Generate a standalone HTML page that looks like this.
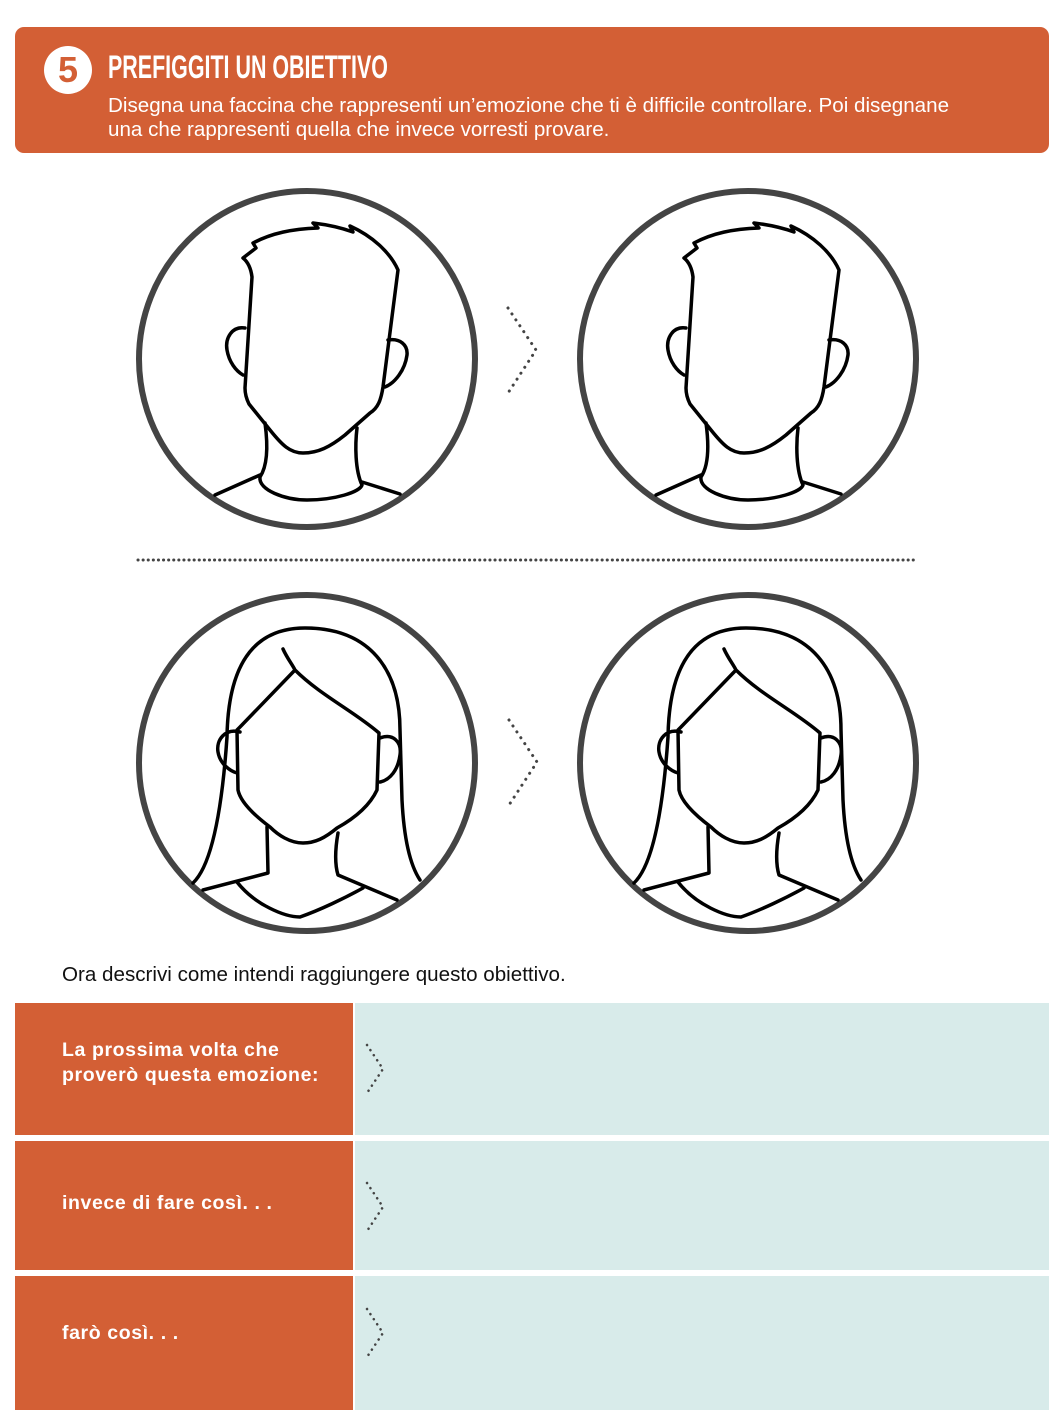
<!DOCTYPE html>
<html><head><meta charset="utf-8"><style>
body{margin:0;width:1064px;height:1410px;background:#fff;position:relative;overflow:hidden;font-family:"Liberation Sans",sans-serif}
.abs{position:absolute}
</style></head><body>
<div class="abs" style="left:15px;top:27px;width:1034px;height:126px;background:#d35f35;border-radius:9px"></div>
<div class="abs" style="left:44px;top:46px;width:48px;height:48px;border-radius:50%;background:#fff;color:#d35f35;font-weight:bold;font-size:36px;line-height:48px;text-align:center">5</div>
<div class="abs" style="left:108px;top:50px;color:#fff;font-family:'Liberation Sans Narrow','Liberation Sans',sans-serif;font-weight:bold;font-size:32px;line-height:34px;transform:scaleX(0.67);transform-origin:left top;white-space:nowrap">PREFIGGITI UN OBIETTIVO</div>
<div class="abs" style="left:108px;top:94px;color:#fff;font-size:20.6px;line-height:24px;white-space:nowrap">Disegna una faccina che rappresenti un’emozione che ti è difficile controllare. Poi disegnane<br>una che rappresenti quella che invece vorresti provare.</div>

<svg class="abs" style="left:0;top:0" width="1064" height="960">
<defs>
<g id="male" fill="none" stroke="#000" stroke-width="3.5" stroke-linejoin="round" stroke-linecap="round">
<path d="M243,258 L256,248 L253,243 C272,233 292,229 318,228 L313,223 C330,225 342,228 353,232 L350,226 C372,236 390,252 398,270 L383,387 C381,400 378,408 370,413 L345,435 C330,447 318,453 303,453 C290,453 282,445 270,430 L249,404 C246,398 245,393 245,388 L252,277 C251,269 248,262 243,258 Z"/>
<path d="M245,328 C232,326 225,338 227,350 C229,362 236,371 243,375"/>
<path d="M388,340 C400,338 408,345 407,355 C405,370 395,383 385,387"/>
<path d="M265,423 C268,445 268,465 260,477 C258,490 285,500 307,500 C335,500 360,492 362,485 C355,470 355,445 357,428"/>
<path d="M215,495 L260,475 M362,482 L400,494"/>
</g>
<g id="female" fill="none" stroke="#000" stroke-width="3.5" stroke-linejoin="round" stroke-linecap="round">
<path d="M193,883 C212,865 222,810 227,737 C228,670 250,628 305,628 C370,628 400,670 400,730 L402,800 C404,840 410,865 420,880"/>
<path d="M283,649 C287,658 292,664 295,670 C320,695 355,712 379,733 L377,790 C370,805 355,818 337,828 C325,838 315,843 303,843 C290,843 278,835 270,827 C250,812 240,800 238,790 L237,730 L240,727 L295,670"/>
<path d="M240,732 C225,728 216,740 218,752 C220,764 230,771 237,773"/>
<path d="M380,738 C393,733 402,742 400,755 C398,770 390,780 380,782"/>
<path d="M267,827 L268,873 L203,890 M338,833 C335,850 335,865 338,875 L397,900"/>
<path d="M237,882 C255,905 285,917 300,917 C320,910 345,898 363,888"/>
</g>
<g id="arrow" fill="none" stroke="#444" stroke-width="3" stroke-dasharray="0.1 7" stroke-linecap="round">
<path d="M508,308 L536,350 L508,393"/>
</g>
</defs>
<g><circle cx="307" cy="359" r="168" fill="none" stroke="#444" stroke-width="6"/><use href="#male"/></g>
<g transform="translate(441,0)"><circle cx="307" cy="359" r="168" fill="none" stroke="#444" stroke-width="6"/><use href="#male"/></g>
<use href="#arrow"/>
<line x1="138" y1="560" x2="918" y2="560" stroke="#444" stroke-width="3" stroke-dasharray="0.1 5" stroke-linecap="round"/>
<g><circle cx="307" cy="763" r="168" fill="none" stroke="#444" stroke-width="6"/><use href="#female"/></g>
<g transform="translate(441,0)"><circle cx="307" cy="763" r="168" fill="none" stroke="#444" stroke-width="6"/><use href="#female"/></g>
<use href="#arrow" transform="translate(1,412)"/>
</svg>

<div class="abs" style="left:62px;top:963px;font-size:20.6px;color:#111">Ora descrivi come intendi raggiungere questo obiettivo.</div>

<div class="abs" style="left:15px;top:1003px;width:338px;height:132px;background:#d35f35"></div>
<div class="abs" style="left:62px;top:1038px;color:#fff;font-weight:bold;font-size:19.5px;line-height:25px;letter-spacing:0.6px">La prossima volta che<br>proverò questa emozione:</div>
<div class="abs" style="left:355px;top:1003px;width:694px;height:132px;background:#d8ebea"></div>
<div class="abs" style="left:15px;top:1141px;width:338px;height:129px;background:#d35f35"></div>
<div class="abs" style="left:62px;top:1192px;color:#fff;font-weight:bold;font-size:19.5px;letter-spacing:0.6px">invece di fare così. . .</div>
<div class="abs" style="left:355px;top:1141px;width:694px;height:129px;background:#d8ebea"></div>
<div class="abs" style="left:15px;top:1276px;width:338px;height:134px;background:#d35f35"></div>
<div class="abs" style="left:62px;top:1322px;color:#fff;font-weight:bold;font-size:19.5px;letter-spacing:0.6px">farò così. . .</div>
<div class="abs" style="left:355px;top:1276px;width:694px;height:134px;background:#d8ebea"></div>

<svg class="abs" style="left:0;top:0;pointer-events:none" width="1064" height="1410">
<g fill="none" stroke="#444" stroke-width="2.5" stroke-dasharray="0.1 6" stroke-linecap="round">
<path d="M367,1045 L383,1069 L367,1093"/>
<path d="M367,1183 L383,1207 L367,1231"/>
<path d="M367,1309 L383,1333 L367,1357"/>
</g></svg>
</body></html>
